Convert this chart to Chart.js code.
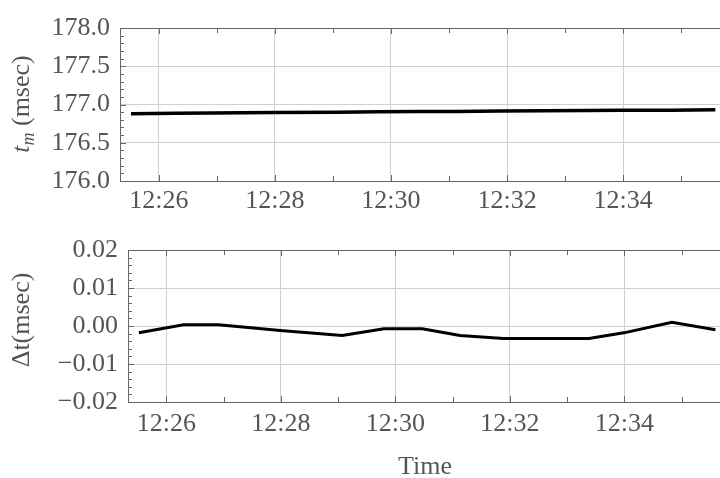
<!DOCTYPE html>
<html>
<head>
<meta charset="utf-8">
<script src="https://cdn.jsdelivr.net/npm/chart.js@4.4.0/dist/chart.umd.min.js"></script>
<style>
  html, body { margin: 0; padding: 0; background: #fff; }
  #wrap { position: relative; width: 720px; height: 478px; }
  #topBox { position: absolute; left: 0; top: 0; width: 720px; height: 235px; }
  #botBox { position: absolute; left: 0; top: 227px; width: 720px; height: 251px; }
</style>
</head>
<body>
<div id="wrap">
  <div id="topBox"><canvas id="topChart"></canvas></div>
  <div id="botBox"><canvas id="botChart"></canvas></div>
</div>
<script>
// time in minutes after 12:00
const times = [25.52, 26.30, 26.91, 27.99, 29.07, 29.80, 30.47, 31.13, 31.89, 33.38, 33.99, 34.83, 35.59];
const tmValues = [176.88, 176.885, 176.89, 176.895, 176.90, 176.905, 176.91, 176.91, 176.915, 176.92, 176.925, 176.925, 176.93];
const dtValues = [-0.0018, 0.0003, 0.0003, -0.0012, -0.0025, -0.0007, -0.0007, -0.0025, -0.0033, -0.0033, -0.0018, 0.0010, -0.0010];

const xTickValues = [26, 28, 30, 32, 34];
const xTickLabels = ['12:26', '12:28', '12:30', '12:32', '12:34'];
const tmTicks = [176.0, 176.5, 177.0, 177.5, 178.0];
const tmTickLabels = ['176.0', '176.5', '177.0', '177.5', '178.0'];
const dtTicks = [-0.02, -0.01, 0, 0.01, 0.02];
const dtTickLabels = ['\u22120.02', '\u22120.01', '0.00', '0.01', '0.02'];

const xMin = 25.33, xMax = 35.67;
const serif = "'Liberation Serif', 'Times New Roman', serif";
const textColor = '#555';
const frameColor = '#666';
const gridColor = '#d0d0d0';

// frame with inward ticks, like the original plot
function framePlugin(minorStep, perMajor) {
  return {
    id: 'frame',
    afterDatasetsDraw(chart) {
      const { ctx, chartArea: a, scales: { x, y } } = chart;
      ctx.save();
      ctx.strokeStyle = frameColor;
      ctx.lineWidth = 1;
      ctx.beginPath();
      ctx.moveTo(a.right, a.top + 0.5);
      ctx.lineTo(a.left + 0.5, a.top + 0.5);
      ctx.lineTo(a.left + 0.5, a.bottom + 0.5);
      ctx.lineTo(a.right, a.bottom + 0.5);
      const n = Math.round((y.max - y.min) / minorStep);
      for (let i = 0; i <= n; i++) {
        const py = Math.round(y.getPixelForValue(y.min + i * minorStep)) + 0.5;
        const len = i % perMajor === 0 ? 6 : 4;
        ctx.moveTo(a.left, py);
        ctx.lineTo(a.left + len, py);
      }
      for (let m = Math.ceil(x.min); m <= Math.floor(x.max); m++) {
        const px = Math.round(x.getPixelForValue(m)) + 0.5;
        const len = m % 2 === 0 ? 6 : 5;
        ctx.moveTo(px, a.top);
        ctx.lineTo(px, a.top + len);
        ctx.moveTo(px, a.bottom);
        ctx.lineTo(px, a.bottom - len);
      }
      ctx.stroke();
      ctx.restore();
    }
  };
}

function makeChart(id, values, yTicks, yLabels, yWidth, xHeight, topPad, xPad, lineWidth, minorStep, extra) {
  return new Chart(document.getElementById(id), {
    type: 'line',
    data: {
      datasets: [{
        data: times.map((t, i) => ({ x: t, y: values[i] })),
        borderColor: '#000',
        borderWidth: lineWidth,
        pointRadius: 0,
        tension: 0,
        fill: false
      }]
    },
    options: {
      responsive: true,
      maintainAspectRatio: false,
      animation: false,
      layout: { padding: { top: topPad, left: 0, right: 0, bottom: 0 } },
      plugins: { legend: { display: false }, tooltip: { enabled: false } },
      scales: {
        x: {
          type: 'linear',
          min: xMin,
          max: xMax,
          afterBuildTicks: s => { s.ticks = xTickValues.map(v => ({ value: v })); },
          afterFit: s => { s.height = xHeight; },
          grid: { color: gridColor, drawTicks: false },
          border: { display: false },
          ticks: {
            autoSkip: false,
            maxRotation: 0,
            padding: xPad,
            color: textColor,
            font: { family: serif, size: 26, lineHeight: 1 },
            callback: (v, i) => xTickLabels[i]
          }
        },
        y: {
          type: 'linear',
          min: yTicks[0],
          max: yTicks[yTicks.length - 1],
          afterBuildTicks: s => { s.ticks = yTicks.map(v => ({ value: v })); },
          afterFit: s => { s.width = yWidth; },
          grid: { color: gridColor, drawTicks: false },
          border: { display: false },
          ticks: {
            padding: 10,
            color: textColor,
            font: { family: serif, size: 26, lineHeight: 1 },
            callback: (v, i) => yLabels[i]
          }
        }
      }
    },
    plugins: [framePlugin(minorStep, 5), extra]
  });
}

makeChart('topChart', tmValues, tmTicks, tmTickLabels, 120, 54, 28, 7, 3.5, 0.1, {
  id: 'titles',
  afterDraw(chart) {
    const ctx = chart.ctx;
    const big = '26px ' + serif;
    const bigIt = 'italic 26px ' + serif;
    const sub = 'italic 18px ' + serif;
    ctx.save();
    ctx.fillStyle = textColor;
    ctx.translate(29, 104);
    ctx.rotate(-Math.PI / 2);
    ctx.textBaseline = 'alphabetic';
    ctx.font = bigIt; const w1 = ctx.measureText('t').width;
    ctx.font = sub; const w2 = ctx.measureText('m').width;
    ctx.font = big; const w3 = ctx.measureText(' (msec)').width;
    let px = -(w1 + w2 + w3) / 2;
    ctx.font = bigIt; ctx.fillText('t', px, 0); px += w1;
    ctx.font = sub; ctx.fillText('m', px, 5); px += w2;
    ctx.font = big; ctx.fillText(' (msec)', px, 0);
    ctx.restore();
  }
});

makeChart('botChart', dtValues, dtTicks, dtTickLabels, 128, 76, 14, 9, 3, 0.002, {
  id: 'titles',
  afterDraw(chart) {
    const ctx = chart.ctx;
    ctx.save();
    ctx.fillStyle = textColor;
    ctx.font = '26px ' + serif;
    ctx.textAlign = 'center';
    ctx.textBaseline = 'middle';
    ctx.fillText('Time', 425, 240);
    ctx.translate(22, 93);
    ctx.rotate(-Math.PI / 2);
    ctx.fillText('\u0394t(msec)', 0, 0);
    ctx.restore();
  }
});
</script>
</body>
</html>
